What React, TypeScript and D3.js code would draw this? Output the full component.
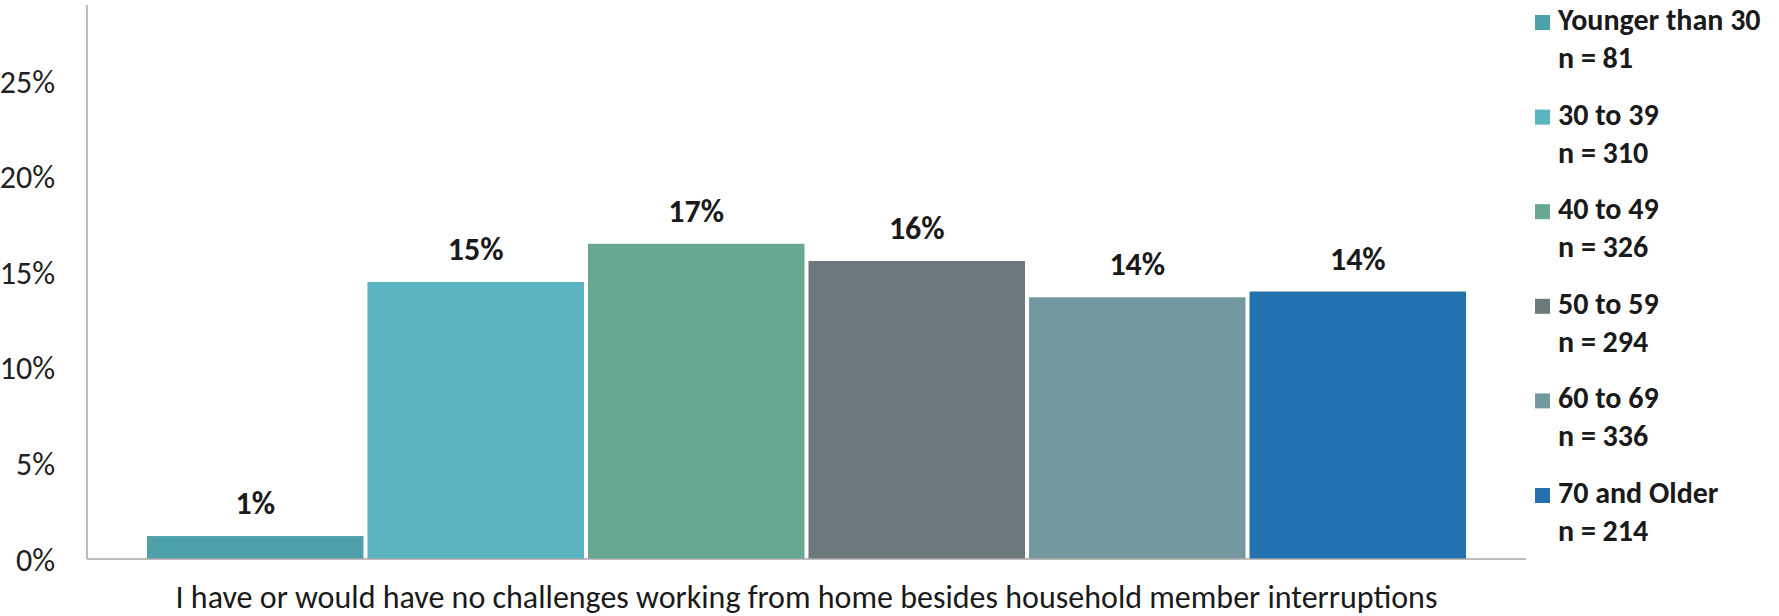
import React from "react";
import * as d3 from "d3";

const category = "I have or would have no challenges working from home besides household member interruptions";
const seriesNames = ["Younger than 30", "30 to 39", "40 to 49", "50 to 59", "60 to 69", "70 and Older"];
const sampleSizes = [81, 310, 326, 294, 336, 214];
const values = [1.2, 14.5, 16.5, 15.6, 13.7, 14.0];
const colors = ["#4EA0AA", "#5AB5C0", "#68A793", "#6B797C", "#7498A0", "#2372AF"];
const yTicks = [0, 5, 10, 15, 20, 25];
const yMax = 29;

const W = 1779;
const H = 616;
const FONT = "Carlito, Lato, 'Open Sans', sans-serif";

export default function App() {
  const plotLeft = 87;
  const plotRight = 1526;
  const plotTop = 5;
  const plotBottom = 559;

  const y = d3.scaleLinear().domain([0, yMax]).range([plotBottom, plotTop]);
  const outer = d3
    .scaleBand<string>()
    .domain([category])
    .range([plotLeft, plotRight])
    .paddingInner(0)
    .paddingOuter(0.0438);
  const x0 = outer(category) as number;
  const inner = d3
    .scaleBand<string>()
    .domain(seriesNames)
    .range([x0, x0 + outer.bandwidth()])
    .padding(0);
  const gap = 4;

  const legendX = 1535;
  const legendY0 = 30;
  const legendStep = 94.6;

  return (
    <svg
      width={W}
      height={H}
      style={{ position: "absolute", left: 0, top: 0, background: "#fff" }}
      fontFamily={FONT}
    >
      <rect x={0} y={0} width={W} height={H} fill="#fff" />
      {/* y tick labels */}
      {yTicks.map((t) => (
        <text
          key={t}
          x={55}
          y={y(t)}
          dy="0.36em"
          textAnchor="end"
          fontSize={32}
          fill="#222"
        >
          {d3.format("d")(t) + "%"}
        </text>
      ))}
      {/* bars */}
      {seriesNames.map((s, i) => {
        const bx = (inner(s) as number) + gap / 2;
        const bw = inner.bandwidth() - gap;
        const top = y(values[i]);
        return (
          <g key={s}>
            <rect x={bx} y={top} width={bw} height={plotBottom - top} fill={colors[i]} />
            <text
              x={bx + bw / 2}
              y={top - 22}
              textAnchor="middle"
              fontSize={32}
              fontWeight="bold"
              fill="#1a1a1a"
            >
              {Math.round(values[i]) + "%"}
            </text>
          </g>
        );
      })}
      {/* axes */}
      <line x1={plotLeft} x2={plotLeft} y1={plotTop} y2={plotBottom} stroke="#A6A6A6" strokeWidth={1.5} />
      <line x1={plotLeft} x2={plotRight} y1={plotBottom} y2={plotBottom} stroke="#A6A6A6" strokeWidth={1.5} />
      {/* category label */}
      <text
        x={(plotLeft + plotRight) / 2}
        y={608}
        textAnchor="middle"
        fontSize={32}
        fill="#1a1a1a"
      >
        {category}
      </text>
      {/* legend */}
      {seriesNames.map((s, i) => {
        const by = legendY0 + i * legendStep;
        return (
          <g key={"lg" + s}>
            <rect x={legendX} y={by - 15} width={15} height={15} fill={colors[i]} />
            <text x={legendX + 23} y={by} fontSize={30} fontWeight="bold" fill="#1a1a1a">
              {s}
            </text>
            <text x={legendX + 23} y={by + 38} fontSize={30} fontWeight="bold" fill="#1a1a1a">
              {"n = " + sampleSizes[i]}
            </text>
          </g>
        );
      })}
    </svg>
  );
}
